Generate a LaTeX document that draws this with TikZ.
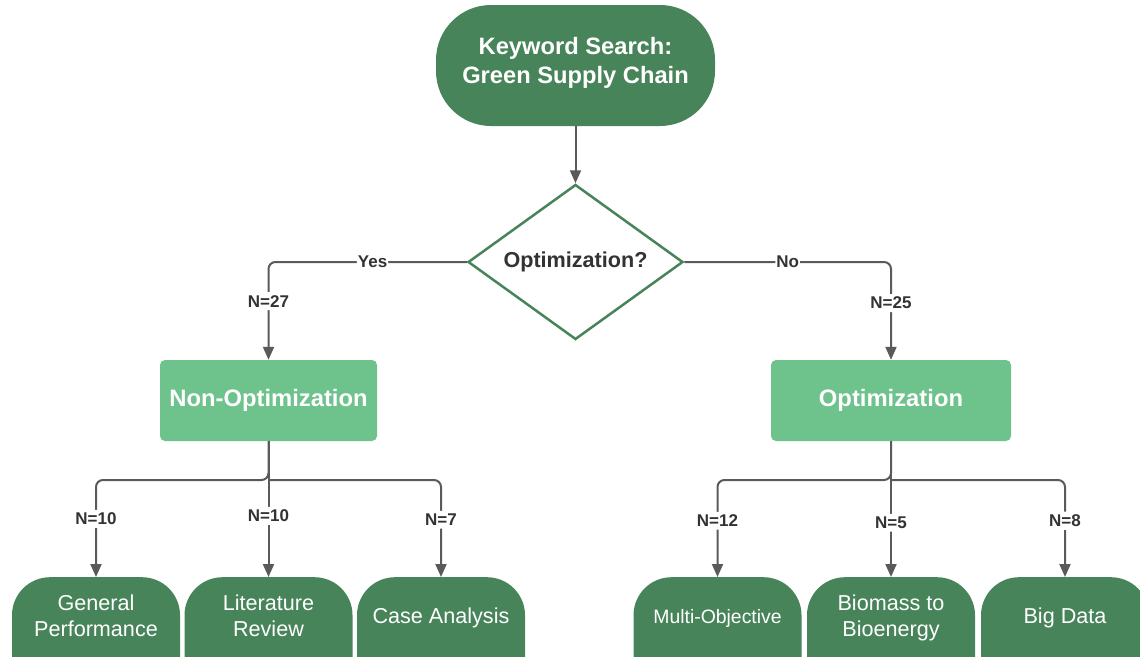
\documentclass[tikz,border=0pt]{standalone}
\usepackage{fontspec}
\setmainfont{Liberation Sans}
\usetikzlibrary{shapes.geometric,arrows.meta}
\definecolor{dkgreen}{HTML}{48845A}
\definecolor{ltgreen}{HTML}{6EC28C}
\definecolor{linegray}{HTML}{5A5A5A}
\definecolor{txtgray}{HTML}{333333}
\begin{document}
\begin{tikzpicture}[x=1pt,y=-1pt,
  every node/.style={inner sep=0},
  termbox/.style={fill=dkgreen, rounded corners=55, minimum width=279, minimum height=121},
  termtext/.style={text=white, font=\bfseries\fontsize{23.7}{29}\selectfont, align=center},
  decision/.style={diamond, draw=dkgreen, line width=2.5, fill=white, aspect=1.387, minimum width=215, minimum height=155, text=txtgray, font=\bfseries\fontsize{21.6}{26}\selectfont},
  catbox/.style={fill=ltgreen, rounded corners=5, minimum height=81, text=white, font=\bfseries\fontsize{23.8}{28}\selectfont},
  leafbox/.style={fill=dkgreen, rounded corners=38, minimum width=168, minimum height=120, anchor=north},
  leaftext/.style={text=white, font=\fontsize{21.6}{26}\selectfont, align=center},
  conn/.style={draw=linegray, line width=2, rounded corners=7},
  arr/.style={conn, -{Triangle[width=11,length=13]}},
  lbl/.style={fill=white, text=txtgray, font=\bfseries\fontsize{17}{20}\selectfont, inner xsep=1, inner ysep=3},
]
\useasboundingbox (0,0) rectangle (1140,656);
\clip (0,0) rectangle (1140,656);

% main nodes
\node[termbox] (kw) at (575.5,65.5) {};
\node[termtext] (kwt) at (575.5,62.5) {Keyword Search:\\Green Supply Chain};
\node[decision] (opt) at (575.5,262) {Optimization?};
\node[catbox, minimum width=217] (non) at (268.5,400.5) {Non-Optimization};
\node[catbox, minimum width=240] (optim) at (891,400.5) {Optimization};

% leaf nodes
\node[leafbox] (gp) at (96,577) {};
\node[leaftext] (gpt) at (96,616) {General\\Performance};
\node[leafbox] (lr) at (268.5,577) {};
\node[leaftext] (lrt) at (268.5,616) {Literature\\Review};
\node[leafbox] (ca) at (441,577) {};
\node[leaftext] (cat) at (441,617.5) {Case Analysis};
\node[leafbox] (mo) at (717.5,577) {};
\node[leaftext, font=\fontsize{19.4}{24}\selectfont] (mot) at (717.5,618) {Multi-Objective};
\node[leafbox] (bb) at (891,577) {};
\node[leaftext] (bbt) at (891,617.5) {Biomass to\\Bioenergy};
\node[leafbox] (bd) at (1065,577) {};
\node[leaftext] (bdt) at (1065,617.5) {Big Data};

% connectors
\draw[arr] (kw.south) -- (opt.north);

\coordinate (yc) at (opt.west -| non.north);
\draw[arr] (opt.west) -- node[lbl,pos=0.475]{Yes} (yc) -- node[lbl,pos=0.4]{N=27} (non.north);
\coordinate (nc) at (opt.east -| optim.north);
\draw[arr] (opt.east) -- node[lbl,pos=0.5]{No} (nc) -- node[lbl,pos=0.42]{N=25} (optim.north);

\coordinate (nb) at (268.5,480);
\draw[arr] (non.south) -- (nb) -- (nb -| gp.north) -- node[lbl,pos=0.4]{N=10} (gp.north);
\draw[arr] (non.south) -- node[lbl,pos=0.55]{N=10} (lr.north);
\draw[arr] (nb) -- (nb -| ca.north) -- node[lbl,pos=0.41]{N=7} (ca.north);

\coordinate (ob) at (891,480);
\draw[arr] (optim.south) -- (ob) -- (ob -| mo.north) -- node[lbl,pos=0.42]{N=12} (mo.north);
\draw[arr] (optim.south) -- node[lbl,pos=0.6]{N=5} (bb.north);
\draw[arr] (ob) -- (ob -| bd.north) -- node[lbl,pos=0.42]{N=8} (bd.north);
\end{tikzpicture}
\end{document}
